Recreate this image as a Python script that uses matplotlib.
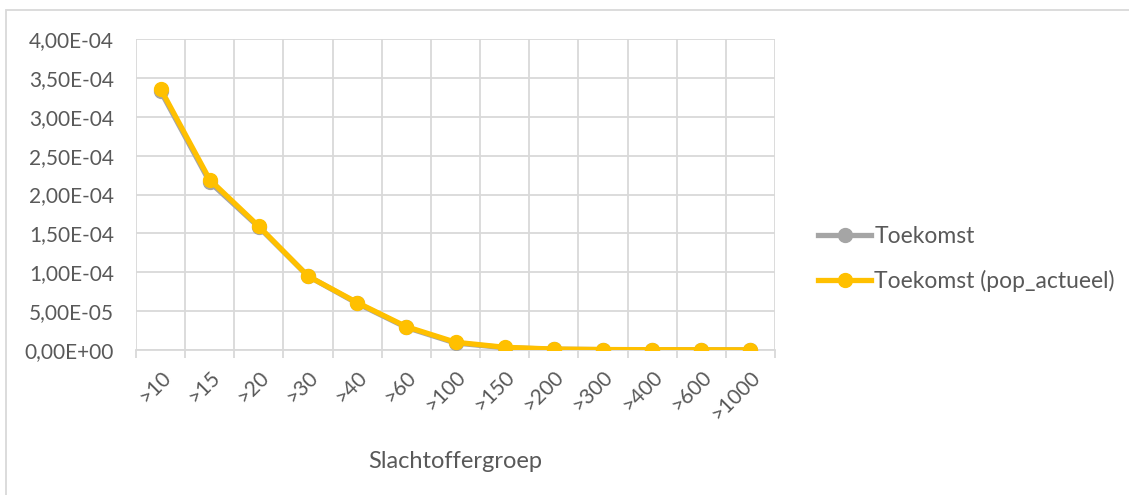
import matplotlib
matplotlib.use("Agg")
import matplotlib.pyplot as plt
from matplotlib.ticker import FuncFormatter, MultipleLocator
from matplotlib.patches import Rectangle
import numpy as np

categories = [">10", ">15", ">20", ">30", ">40", ">60", ">100", ">150", ">200", ">300", ">400", ">600", ">1000"]
toekomst = [3.33e-4, 2.16e-4, 1.58e-4, 0.95e-4, 0.60e-4, 0.29e-4, 0.9e-5, 0.3e-5, 0.1e-5, 0.05e-5, 0.03e-5, 0.02e-5, 0.01e-5]
toekomst_pop = [3.36e-4, 2.19e-4, 1.59e-4, 0.95e-4, 0.61e-4, 0.30e-4, 1.0e-5, 0.35e-5, 0.12e-5, 0.06e-5, 0.04e-5, 0.03e-5, 0.02e-5]

plt.rcParams['font.family'] = ['Lato', 'DejaVu Sans']
txt = '#595959'
grid = '#D9D9D9'

fig = plt.figure(figsize=(11.29, 4.95), dpi=100)
ax = fig.add_axes([136/1129, 1-350/495, (775-136)/1129, (350-39)/495])

x = np.arange(len(categories))
ax.plot(x, toekomst, color='#A5A5A5', lw=3.8, marker='o', ms=10, label='Toekomst', zorder=3)
ax.plot(x, toekomst_pop, color='#FFC000', lw=3.8, marker='o', ms=10, label='Toekomst (pop_actueel)', zorder=4)

ax.set_xlim(-0.5, len(categories)-0.5)
ax.set_ylim(0, 4e-4)
ax.yaxis.set_major_locator(MultipleLocator(0.5e-4))

def fmt(v, pos):
    if abs(v) < 1e-12:
        return '0,00E+00'
    s = f"{v:.2E}"
    return s.replace('.', ',')
ax.yaxis.set_major_formatter(FuncFormatter(fmt))

ax.set_xticks(x)
ax.set_xticklabels(categories, rotation=45, ha='right', rotation_mode='anchor')
ax.set_xticks(np.arange(-0.5, len(categories)), minor=True)
ax.grid(True, axis='y', which='major', color=grid, lw=1.3)
ax.grid(True, axis='x', which='minor', color=grid, lw=1.3)
ax.grid(False, axis='x', which='major')
ax.set_axisbelow(True)
for s in ['top', 'right', 'left']:
    ax.spines[s].set_visible(False)
ax.spines['bottom'].set_color(grid)
ax.spines['bottom'].set_linewidth(1.3)
ax.tick_params(axis='both', which='both', length=0, labelcolor=txt, labelsize=15)
ax.tick_params(axis='y', pad=16)
ax.tick_params(axis='x', pad=12)
ax.tick_params(axis='x', which='minor', length=6, color=grid, width=1.3)

ax.set_xlabel('Slachtoffergroep', color=txt, fontsize=17, labelpad=20)

leg = fig.legend(loc='upper left', bbox_to_anchor=(809/1129, 1-217/495), frameon=False,
                 fontsize=16.5, labelcolor=txt, handlelength=2.3, labelspacing=1.0,
                 handletextpad=0.15, borderaxespad=0)

fig.patches.append(Rectangle((6/1129, -0.1), 1.2, 1 - 10/495 + 0.1, transform=fig.transFigure,
                             fill=False, edgecolor='#D9D9D9', lw=1.3, clip_on=False))

fig.savefig('out.png', dpi=100)
